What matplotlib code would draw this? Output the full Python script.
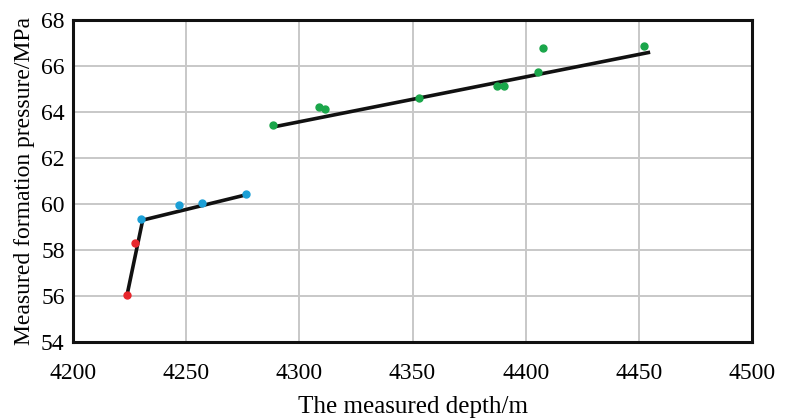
import numpy as np
import matplotlib.pyplot as plt

# ==== Données
red_depth = [4224, 4227.6]
red_press = [56.05, 58.3]
blue_depth = [4230.2, 4247, 4257, 4276.5]
blue_press = [59.35, 59.95, 60.05, 60.45]
green_depth = [4288.5, 4308.5, 4311.5, 4353, 4387.5, 4390.5, 4405.5, 4407.5, 4452.5]
green_press = [63.42, 64.2, 64.12, 64.6, 65.15, 65.15, 65.72, 66.8, 66.88]

# droites de tendance (extrémités)
fit1_depth = [4224, 4230.8]
fit1_press = [56.1, 59.3]
fit2_depth = [4230.8, 4276.5]
fit2_press = [59.3, 60.4]
fit3_depth = [4288.5, 4455]
fit3_press = [63.35, 66.6]

xticks = [4200, 4250, 4300, 4350, 4400, 4450, 4500]
yticks = [54, 56, 58, 60, 62, 64, 66, 68]

plt.rcParams['font.family'] = 'serif'
plt.rcParams['font.serif'] = ['Liberation Serif', 'DejaVu Serif']

fig = plt.figure(figsize=(7.88, 4.19), dpi=100)
ax = fig.add_axes([73/788, 1 - 342/419, (752-73)/788, (342-20)/419])

ax.grid(True, color="#c8c8c8", linewidth=1.4)
ax.set_axisbelow(True)

for xs, ys in [(fit1_depth, fit1_press), (fit2_depth, fit2_press), (fit3_depth, fit3_press)]:
    ax.plot(xs, ys, color="#111111", linewidth=2.6, solid_capstyle="butt", zorder=3)

ax.plot(red_depth, red_press, "o", color="#e8262c", markersize=5, zorder=4)
ax.plot(blue_depth, blue_press, "o", color="#1b9fd6", markersize=5, zorder=4)
ax.plot(green_depth, green_press, "o", color="#1aa64a", markersize=5, zorder=4)

ax.set_xlim(4200, 4500)
ax.set_ylim(54, 68)
ax.set_xticks(xticks)
ax.set_yticks(yticks)
ax.tick_params(length=0, labelsize=17)
ax.tick_params(axis="x", pad=15)
ax.tick_params(axis="y", pad=6)
for sp in ax.spines.values():
    sp.set_linewidth(2.2)
    sp.set_color("#111111")

ax.set_xlabel("The measured depth/m", fontsize=18, labelpad=9)
ax.set_ylabel("Measured formation pressure/MPa", fontsize=17, labelpad=4)

fig.savefig("out.png", dpi=100)
